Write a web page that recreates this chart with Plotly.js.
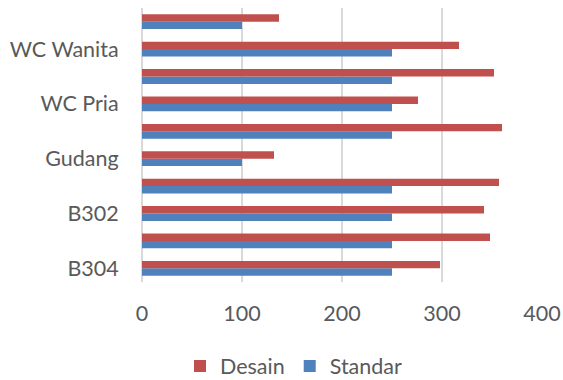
<!DOCTYPE html>
<html>
<head>
<meta charset="utf-8">
<script src="https://cdn.plot.ly/plotly-3.0.1.min.js"></script>
<style>html,body{margin:0;padding:0;background:#fff;}#chart{width:563px;height:380px;}</style>
</head>
<body>
<div id="chart"></div>
<script>
// Categories from bottom to top (only every other one is labelled in the reference)
var categories = ["B304", "B303", "B302", "B301", "Gudang", "Lobby", "WC Pria", "Koridor", "WC Wanita", "Mushola"];
var shownLabels = ["B304", "B302", "Gudang", "WC Pria", "WC Wanita"];
var desain = [298, 348, 342, 357, 132, 360, 276, 352, 317, 137];
var standar = [250, 250, 250, 250, 100, 250, 250, 250, 250, 100];
var xTicks = [0, 100, 200, 300, 400];

var font = "Lato, Open Sans, sans-serif";
var data = [
  {type: "bar", orientation: "h", name: "Standar", y: categories, x: standar,
   marker: {color: "#4F81BD", line: {width: 0}}, legendrank: 2},
  {type: "bar", orientation: "h", name: "Desain", y: categories, x: desain,
   marker: {color: "#C0504D", line: {width: 0}}, legendrank: 1}
];
var layout = {
  width: 563, height: 380,
  margin: {l: 142, r: 21, t: 8, b: 98, autoexpand: false},
  paper_bgcolor: "#fff", plot_bgcolor: "#fff",
  barmode: "group", bargap: 0.46, bargroupgap: 0,
  font: {family: font, size: 21.5, color: "#595959"},
  xaxis: {range: [0, 400], tickvals: xTicks, showgrid: true, gridcolor: "#D9D9D9", gridwidth: 1.5,
          zeroline: true, zerolinecolor: "#D9D9D9", zerolinewidth: 1.5, showline: false,
          ticks: "outside", ticklen: 12, tickcolor: "rgba(0,0,0,0)", fixedrange: true},
  yaxis: {type: "category", categoryorder: "array", categoryarray: categories,
          tickvals: shownLabels, ticktext: shownLabels, showgrid: false, showline: false,
          ticks: "outside", ticklen: 18, tickcolor: "rgba(0,0,0,0)", fixedrange: true},
  showlegend: true,
  legend: {orientation: "h", x: 0.38, xanchor: "center", yref: "container", y: 0.037, yanchor: "middle",
           font: {family: font, size: 21.5, color: "#595959"}, itemwidth: 30, tracegroupgap: 0}
};
Plotly.newPlot("chart", data, layout, {displayModeBar: false, staticPlot: true});
</script>
</body>
</html>
